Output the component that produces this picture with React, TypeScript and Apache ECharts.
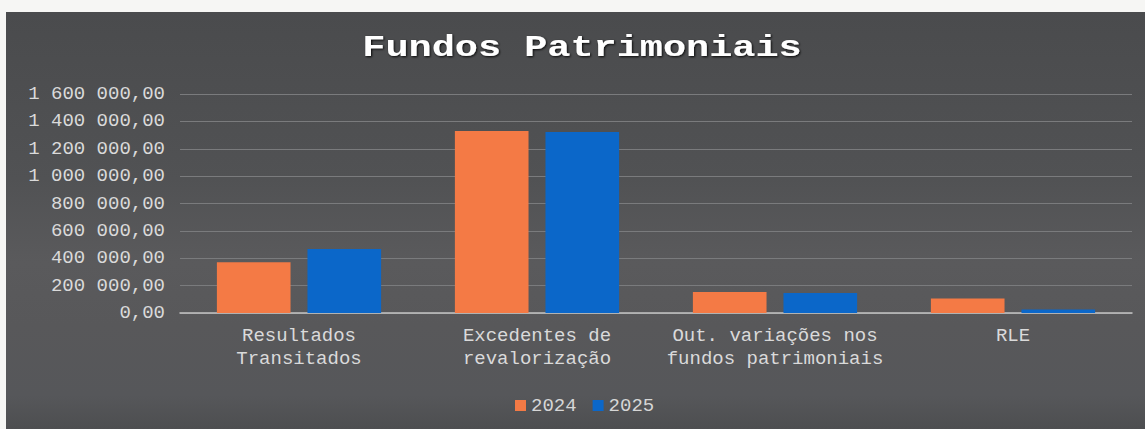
import React, { useEffect, useRef } from "react";
import * as echarts from "echarts";

const categories = [
  "Resultados\nTransitados",
  "Excedentes de\nrevalorização",
  "Out. variações nos\nfundos patrimoniais",
  "RLE",
];
const seriesNames = ["2024", "2025"];
const values2024 = [370000, 1330000, 154000, 106000];
const values2025 = [467000, 1323000, 147000, 25000];
const yMin = 0;
const yMax = 1600000;
const yInterval = 200000;
const titleText = "Fundos Patrimoniais";

const fmt = (v: number) => {
  const fixed = Math.abs(v).toFixed(2);
  const [ip, dp] = fixed.split(".");
  const grouped = ip.replace(/\B(?=(\d{3})+(?!\d))/g, " ");
  return (v < 0 ? "-" : "") + grouped + "," + dp;
};

const MONO = "'Liberation Mono', 'DejaVu Sans Mono', monospace";

export default function App() {
  const ref = useRef<HTMLDivElement>(null);
  useEffect(() => {
    if (!ref.current) return;
    const chart = echarts.init(ref.current, null, { renderer: "svg" });
    chart.setOption({
      animation: false,
      backgroundColor: "#f6f6f4",
      graphic: [
        {
          type: "rect",
          z: -10,
          shape: { x: 6, y: 12, width: 1139, height: 417 },
          style: {
            fill: new echarts.graphic.LinearGradient(0, 0, 0, 1, [
              { offset: 0, color: "#4a4b4d" },
              { offset: 0.4, color: "#515254" },
              { offset: 0.6, color: "#5a5a5c" },
              { offset: 0.75, color: "#58585a" },
              { offset: 0.92, color: "#56575a" },
              { offset: 1, color: "#4d4e50" },
            ]),
          },
        },
        {
          type: "text",
          x: 582,
          y: 48,
          scaleX: 1.285,
          z: 10,
          style: {
            text: titleText,
            fontFamily: MONO,
            fontSize: 30,
            fontWeight: "bold",
            fill: "#ffffff",
            textAlign: "center",
            textVerticalAlign: "middle",
            textShadowColor: "rgba(0,0,0,0.9)",
            textShadowBlur: 2,
            textShadowOffsetX: 1,
            textShadowOffsetY: 1,
          },
        },
      ],
      legend: {
        data: seriesNames,
        left: 510,
        top: 391,
        itemWidth: 11,
        itemHeight: 11,
        itemGap: 16,
        icon: "rect",
        textStyle: { color: "#d6d6d6", fontFamily: MONO, fontSize: 19 },
      },
      grid: { left: 180, right: 13, top: 94, bottom: 116, containLabel: false },
      xAxis: {
        type: "category",
        data: categories,
        axisTick: { show: false },
        axisLine: { lineStyle: { color: "#c4c4c4", width: 1.5 } },
        axisLabel: {
          color: "#dadada",
          fontFamily: MONO,
          fontSize: 19,
          lineHeight: 23,
          margin: 11,
          interval: 0,
        },
      },
      yAxis: {
        type: "value",
        min: yMin,
        max: yMax,
        interval: yInterval,
        axisLine: { show: false },
        axisTick: { show: false },
        splitLine: { lineStyle: { color: "#7a7b7d", width: 1 } },
        axisLabel: {
          color: "#dadada",
          fontFamily: MONO,
          fontSize: 19,
          margin: 15,
          formatter: (v: number) => fmt(v),
        },
      },
      series: [
        {
          name: seriesNames[0],
          type: "bar",
          data: values2024,
          barGap: "23%",
          barCategoryGap: "31%",
          itemStyle: { color: "#f47a45" },
        },
        {
          name: seriesNames[1],
          type: "bar",
          data: values2025,
          barGap: "23%",
          barCategoryGap: "31%",
          itemStyle: { color: "#0b67c9" },
        },
      ],
    });
    return () => chart.dispose();
  }, []);
  return (
    <div
      ref={ref}
      style={{ position: "absolute", left: 0, top: 0, width: 1145, height: 429 }}
    />
  );
}
